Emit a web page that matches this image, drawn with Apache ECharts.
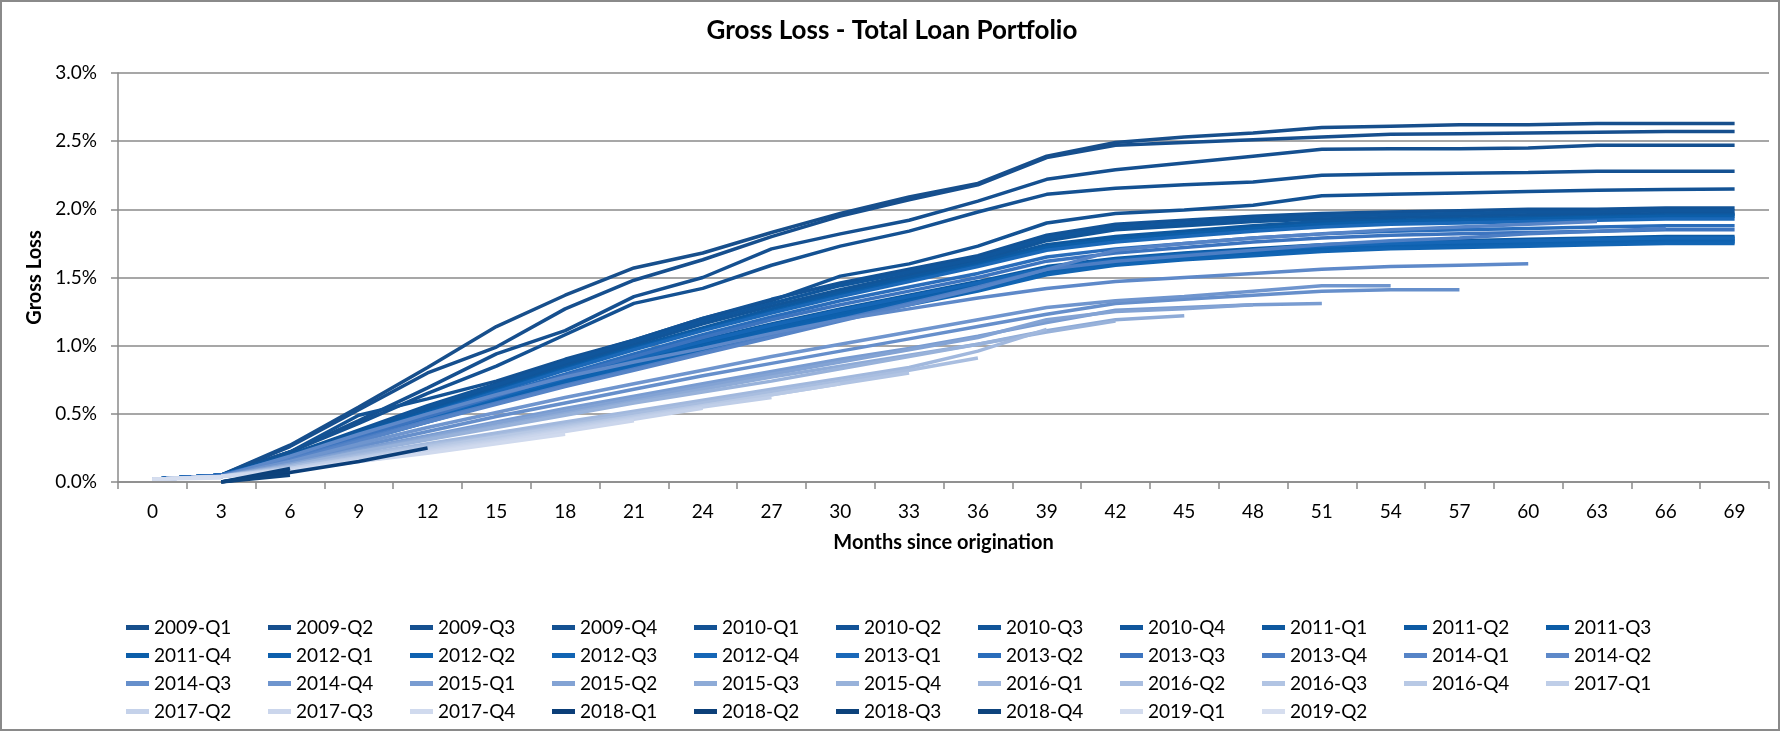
<!DOCTYPE html>
<html>
<head>
<meta charset="utf-8">
<title>Gross Loss - Total Loan Portfolio</title>
<script src="https://cdn.jsdelivr.net/npm/echarts@6/dist/echarts.min.js"></script>
<style>
  html, body { margin: 0; padding: 0; background: #fff; }
  #main { width: 1784px; height: 733px; }
</style>
</head>
<body>
<div id="main"></div>
<script>
// months since origination (one point per quarter)
var months = ['0','3','6','9','12','15','18','21','24','27','30','33','36','39','42','45','48','51','54','57','60','63','66','69'];

var cohorts = [
  '2009-Q1','2009-Q2','2009-Q3','2009-Q4','2010-Q1','2010-Q2','2010-Q3','2010-Q4',
  '2011-Q1','2011-Q2','2011-Q3','2011-Q4','2012-Q1','2012-Q2','2012-Q3','2012-Q4',
  '2013-Q1','2013-Q2','2013-Q3','2013-Q4','2014-Q1','2014-Q2','2014-Q3','2014-Q4',
  '2015-Q1','2015-Q2','2015-Q3','2015-Q4','2016-Q1','2016-Q2','2016-Q3','2016-Q4',
  '2017-Q1','2017-Q2','2017-Q3','2017-Q4','2018-Q1','2018-Q2','2018-Q3','2018-Q4',
  '2019-Q1','2019-Q2'
];

// gross loss in %
var gl2009q1 = [0.02,0.05,0.27,0.55,0.84,1.14,1.37,1.57,1.68,1.83,1.97,2.09,2.19,2.39,2.49,2.53,2.56,2.60,2.61,2.62,2.62,2.63,2.63,2.63];
var gl2009q2 = [0.02,0.05,0.26,0.53,0.80,0.99,1.27,1.48,1.63,1.80,1.95,2.07,2.18,2.38,2.47,2.49,2.51,2.53,2.55,2.555,2.56,2.565,2.57,2.57];
var gl2009q3 = [0.02,0.05,0.22,0.45,0.69,0.94,1.11,1.36,1.50,1.71,1.82,1.92,2.06,2.22,2.29,2.34,2.39,2.44,2.445,2.445,2.45,2.47,2.47,2.47];
var gl2009q4 = [0.02,0.05,0.22,0.43,0.65,0.85,1.08,1.31,1.42,1.59,1.73,1.84,1.98,2.11,2.155,2.18,2.20,2.25,2.26,2.265,2.27,2.28,2.28,2.28];
var gl2010q1 = [0.02,0.05,0.22,0.49,0.61,0.74,0.90,1.04,1.20,1.33,1.51,1.60,1.73,1.90,1.97,1.995,2.03,2.10,2.11,2.12,2.13,2.14,2.145,2.15];
var gl2010q2 = [0.02,0.05,0.20,0.38,0.56,0.72,0.89,1.04,1.20,1.34,1.46,1.56,1.66,1.81,1.89,1.92,1.95,1.97,1.98,1.99,2.00,2.00,2.01,2.01];
var gl2010q3 = [0.02,0.05,0.19,0.36,0.53,0.70,0.86,1.01,1.16,1.29,1.41,1.52,1.62,1.77,1.85,1.88,1.91,1.93,1.94,1.95,1.96,1.96,1.97,1.97];
var gl2010q4 = [0.02,0.05,0.20,0.37,0.55,0.71,0.88,1.03,1.18,1.31,1.44,1.54,1.64,1.79,1.87,1.90,1.93,1.95,1.96,1.97,1.98,1.98,1.99,1.99];
var gl2011q1 = [0.02,0.05,0.19,0.36,0.52,0.68,0.84,0.99,1.13,1.27,1.39,1.50,1.61,1.74,1.80,1.84,1.88,1.91,1.92,1.93,1.94,1.95,1.96,1.96];
var gl2011q2 = [0.02,0.05,0.17,0.33,0.48,0.63,0.77,0.91,1.04,1.16,1.27,1.37,1.47,1.58,1.64,1.68,1.71,1.74,1.76,1.77,1.78,1.79,1.80,1.80];
var gl2011q3 = [0.02,0.05,0.17,0.32,0.47,0.61,0.75,0.89,1.02,1.14,1.25,1.35,1.45,1.56,1.62,1.66,1.69,1.72,1.74,1.75,1.76,1.77,1.78,1.78];
var gl2011q4 = [0.02,0.05,0.18,0.35,0.51,0.67,0.83,0.98,1.12,1.25,1.37,1.48,1.59,1.72,1.78,1.82,1.86,1.89,1.91,1.92,1.93,1.94,1.95,1.95];
var gl2012q1 = [0.02,0.05,0.16,0.31,0.46,0.60,0.74,0.87,1.00,1.12,1.23,1.33,1.43,1.54,1.61,1.65,1.68,1.71,1.73,1.74,1.75,1.76,1.77,1.77];
var gl2012q2 = [0.02,0.05,0.16,0.31,0.45,0.59,0.73,0.86,0.98,1.10,1.21,1.32,1.42,1.53,1.60,1.64,1.67,1.70,1.72,1.73,1.74,1.75,1.76,1.76];
var gl2012q3 = [0.02,0.05,0.16,0.30,0.44,0.58,0.71,0.84,0.97,1.09,1.20,1.30,1.40,1.52,1.59,1.63,1.66,1.69,1.71,1.72,1.73,1.74,1.75,1.75];
var gl2012q4 = [0.02,0.05,0.17,0.32,0.47,0.62,0.76,0.90,1.03,1.15,1.26,1.36,1.46,1.57,1.63,1.67,1.70,1.73,1.75,1.76,1.77,1.78,1.79,1.79];
var gl2013q1 = [0.02,0.05,0.18,0.34,0.50,0.66,0.82,0.97,1.11,1.24,1.36,1.47,1.58,1.70,1.76,1.80,1.84,1.87,1.89,1.90,1.91,1.92,1.93,1.93];
var gl2013q2 = [0.02,0.05,0.18,0.34,0.49,0.64,0.79,0.94,1.08,1.21,1.33,1.43,1.53,1.65,1.71,1.75,1.79,1.82,1.84,1.85,1.86,1.87,1.88,1.88];
var gl2013q3 = [0.02,0.05,0.17,0.33,0.48,0.63,0.78,0.92,1.06,1.19,1.30,1.40,1.50,1.62,1.68,1.72,1.76,1.79,1.81,1.82,1.83,1.84,1.85,1.85];
var gl2013q4 = [0.02,0.04,0.17,0.31,0.45,0.58,0.71,0.83,0.95,1.07,1.19,1.31,1.43,1.56,1.62,1.66,1.70,1.74,1.77,1.79,1.82,1.84,1.86];
var gl2014q1 = [0.02,0.04,0.16,0.30,0.44,0.57,0.70,0.82,0.94,1.06,1.18,1.30,1.42,1.56,1.70,1.75,1.79,1.82,1.85,1.87,1.89,1.91];
var gl2014q2 = [0.02,0.04,0.19,0.35,0.50,0.64,0.77,0.88,0.98,1.09,1.19,1.27,1.35,1.42,1.47,1.50,1.53,1.56,1.58,1.59,1.60];
var gl2014q3 = [0.02,0.04,0.14,0.26,0.37,0.48,0.58,0.68,0.78,0.87,0.96,1.05,1.14,1.23,1.31,1.34,1.37,1.40,1.41,1.41];
var gl2014q4 = [0.02,0.04,0.15,0.28,0.40,0.51,0.62,0.72,0.82,0.92,1.01,1.10,1.19,1.28,1.33,1.36,1.40,1.44,1.44];
var gl2015q1 = [0.02,0.04,0.13,0.24,0.34,0.44,0.54,0.63,0.72,0.81,0.90,0.98,1.07,1.17,1.26,1.28,1.30,1.31];
var gl2015q2 = [0.02,0.04,0.13,0.23,0.33,0.43,0.52,0.61,0.70,0.79,0.88,0.97,1.06,1.19,1.25,1.27,1.30];
var gl2015q3 = [0.02,0.04,0.12,0.22,0.32,0.41,0.50,0.59,0.68,0.77,0.85,0.93,1.01,1.11,1.19,1.22];
var gl2015q4 = [0.02,0.04,0.12,0.22,0.31,0.40,0.49,0.58,0.66,0.74,0.83,0.92,1.01,1.10,1.18];
var gl2016q1 = [0.02,0.04,0.11,0.20,0.28,0.36,0.44,0.52,0.60,0.68,0.76,0.84,0.96,1.12];
var gl2016q2 = [0.02,0.04,0.11,0.19,0.27,0.34,0.42,0.50,0.58,0.66,0.74,0.82,0.91];
var gl2016q3 = [0.02,0.04,0.10,0.18,0.26,0.33,0.41,0.48,0.56,0.64,0.72,0.80];
var gl2016q4 = [0.02,0.04,0.10,0.18,0.25,0.33,0.40,0.48,0.56,0.64,0.72];
var gl2017q1 = [0.02,0.04,0.10,0.17,0.24,0.31,0.39,0.47,0.55,0.62];
var gl2017q2 = [0.02,0.04,0.09,0.16,0.23,0.30,0.38,0.46,0.54];
var gl2017q3 = [0.02,0.04,0.09,0.15,0.22,0.29,0.37,0.45];
var gl2017q4 = [0.02,0.04,0.08,0.15,0.21,0.28,0.35];
var gl2018q1 = [null,0.00,0.07,0.15,0.25];
var gl2018q2 = [null,0.00,0.10];
var gl2018q3 = [null,0.00,0.08];
var gl2018q4 = [null,0.00,0.05];
var gl2019q1 = [0.02,0.04];
var gl2019q2 = [0.02,0.03];

var yTicks = [0, 0.5, 1.0, 1.5, 2.0, 2.5, 3.0];

var values = [
  gl2009q1,gl2009q2,gl2009q3,gl2009q4,gl2010q1,gl2010q2,gl2010q3,gl2010q4,
  gl2011q1,gl2011q2,gl2011q3,gl2011q4,gl2012q1,gl2012q2,gl2012q3,gl2012q4,
  gl2013q1,gl2013q2,gl2013q3,gl2013q4,gl2014q1,gl2014q2,gl2014q3,gl2014q4,
  gl2015q1,gl2015q2,gl2015q3,gl2015q4,gl2016q1,gl2016q2,gl2016q3,gl2016q4,
  gl2017q1,gl2017q2,gl2017q3,gl2017q4,gl2018q1,gl2018q2,gl2018q3,gl2018q4,
  gl2019q1,gl2019q2
];

var colors = [
  '#174f8c','#164f8e','#155090','#145192','#135294','#125397','#115599','#10569c',
  '#0e589f','#0d5aa3','#0c5ca6','#0c5ea9','#0d60ad','#0f62b0','#1164b3','#1566b6',
  '#1a68b8','#2a6dbb','#3c74bf','#4c7ec4','#5684c7','#5e89c9','#668fcb','#6f95ce',
  '#799cd1','#83a3d4','#8eabd7','#98b2da','#a1b8dd','#a9bee0','#b1c4e3','#b8c9e5',
  '#bfcee8','#c5d2ea','#cbd6ec','#d0daee','#0b3e78','#0c4079','#0d427b','#0e447d',
  '#d3dcee','#d6deef'
];

var font = "Lato, 'Open Sans', sans-serif";
var grey = '#8a8a8a';

var series = [];
for (var i = 0; i < cohorts.length; i++) {
  series.push({
    name: cohorts[i],
    type: 'line',
    data: values[i],
    symbol: 'none',
    smooth: false,
    connectNulls: false,
    itemStyle: { color: colors[i] },
    lineStyle: { color: colors[i], width: 3.5 },
    emphasis: { disabled: true }
  });
}

var mychart = echarts.init(document.getElementById('main'), null, { renderer: 'canvas' });
mychart.setOption({
  animation: false,
  backgroundColor: '#fff',
  textStyle: { fontFamily: font },
  title: {
    text: 'Gross Loss - Total Loan Portfolio',
    left: 'center',
    top: 18,
    padding: 0,
    textStyle: { fontFamily: font, fontSize: 26, fontWeight: 'bold', color: '#000' }
  },
  grid: {
    left: 118, right: 15, top: 73, bottom: 251,
    containLabel: false,
    outerBoundsMode: 'none'
  },
  legend: {
    data: cohorts,
    left: 126,
    top: 618,
    width: 1575,
    padding: 0,
    icon: 'rect',
    itemWidth: 23,
    itemHeight: 5,
    itemGap: 9,
    selectedMode: false,
    formatter: '{n|{name}}',
    textStyle: {
      fontFamily: font, fontSize: 19, color: '#000',
      rich: { n: { width: 105, fontFamily: font, fontSize: 19, lineHeight: 18, color: '#000' } }
    }
  },
  xAxis: {
    type: 'category',
    data: months,
    boundaryGap: true,
    name: 'Months since origination',
    nameLocation: 'middle',
    nameGap: 51,
    nameTextStyle: { fontFamily: font, fontSize: 20, fontWeight: 'bold', color: '#000' },
    axisLine: { show: true, lineStyle: { color: grey, width: 1.5 } },
    axisTick: { show: true, length: 7, alignWithLabel: false, lineStyle: { color: grey, width: 1.5 } },
    axisLabel: { interval: 0, fontSize: 19, color: '#000', margin: 20, fontFamily: font },
    splitLine: { show: false }
  },
  yAxis: {
    type: 'value',
    min: yTicks[0],
    max: yTicks[yTicks.length - 1],
    interval: 0.5,
    name: 'Gross Loss',
    nameLocation: 'middle',
    nameRotate: 90,
    nameGap: 73,
    nameTextStyle: { fontFamily: font, fontSize: 20, fontWeight: 'bold', color: '#000' },
    axisLine: { show: true, lineStyle: { color: grey, width: 1.5 } },
    axisTick: { show: true, length: 7, lineStyle: { color: grey, width: 1.5 } },
    axisLabel: {
      fontSize: 19, color: '#000', margin: 21, fontFamily: font,
      formatter: function (v) { return v.toFixed(1) + '%'; }
    },
    splitLine: { show: true, lineStyle: { color: grey, width: 1.5 } }
  },
  graphic: [{
    type: 'rect',
    silent: true,
    shape: { x: 1, y: 1, width: 1778, height: 729 },
    style: { fill: 'none', stroke: grey, lineWidth: 2 }
  }],
  series: series
});
</script>
</body>
</html>
